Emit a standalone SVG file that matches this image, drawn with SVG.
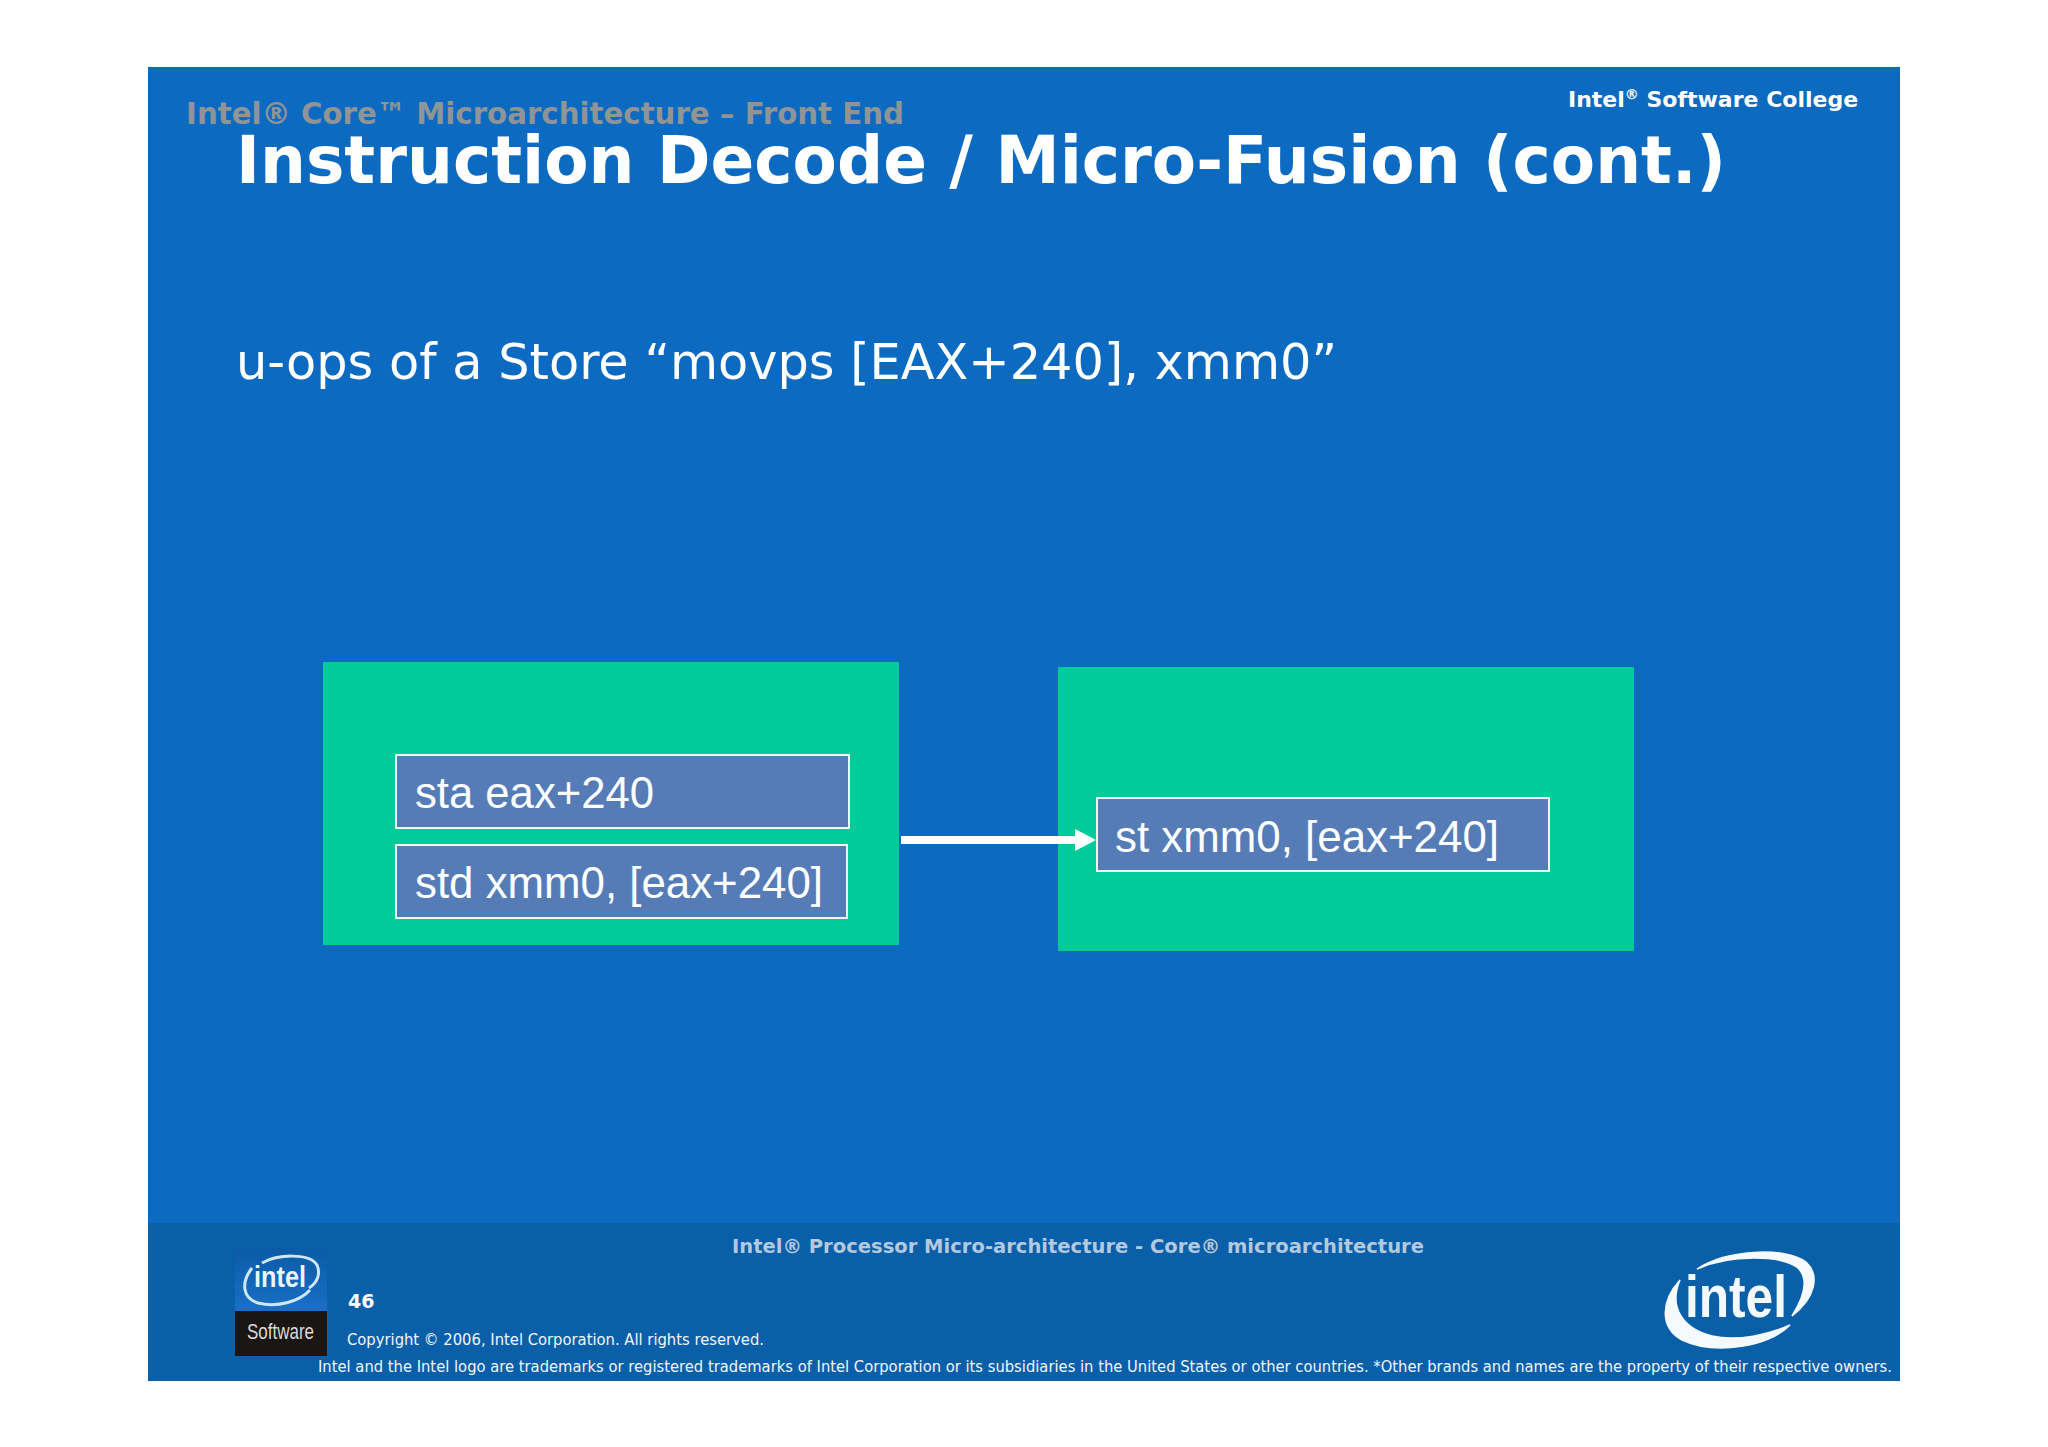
<svg xmlns="http://www.w3.org/2000/svg" width="2048" height="1447" viewBox="0 0 2048 1447">
<style>
.d{font-family:"DejaVu Sans",Verdana,sans-serif}
.b{font-weight:700}
.w{fill:#fff}
.a{font-family:"Liberation Sans",Arial,sans-serif;font-size:44px;fill:#fff}
.g{fill:#00cc99}
.u{fill:#567cb8;stroke:#eef6f8;stroke-width:2}
.f{font-size:15.2px;fill:#f2f6fa}
.l{font-family:"Liberation Sans",Arial,sans-serif;font-weight:700;fill:#f2f8fc}
</style>
<defs>
<linearGradient id="badge" x1="0" y1="0" x2="0" y2="1"><stop offset="0" stop-color="#0b5ba6"/><stop offset="1" stop-color="#1a6fc6"/></linearGradient>
</defs>
<rect width="2048" height="1447" fill="#fff"/>
<rect id="slide" x="148" y="67" width="1752" height="1314" fill="#0c6bc1"/>
<rect id="footer" x="148" y="1223" width="1752" height="158" fill="#0a5fa9"/>
<g id="headings">
<text class="d b" x="186" y="124" font-size="30.5" fill="#8f9497" textLength="718" lengthAdjust="spacingAndGlyphs">Intel® Core™ Microarchitecture – Front End</text>
<text class="d b w" x="236" y="183" font-size="66" textLength="1490" lengthAdjust="spacingAndGlyphs">Instruction Decode / Micro-Fusion (cont.)</text>
<text class="d b w" x="1568" y="107" font-size="22">Intel<tspan font-size="14" dy="-8">®</tspan><tspan dy="8"> Software College</tspan></text>
<text class="d w" x="236" y="379" font-size="50" textLength="1101" lengthAdjust="spacingAndGlyphs">u-ops of a Store “movps [EAX+240], xmm0”</text>
</g>
<g id="node-before">
<rect class="g" x="323" y="662" width="576" height="283"/>
<rect class="u" x="396" y="755" width="453" height="73"/>
<text class="a" x="415" y="808" textLength="239" lengthAdjust="spacingAndGlyphs">sta eax+240</text>
<rect class="u" x="396" y="845" width="451" height="73"/>
<text class="a" x="415" y="898" textLength="408" lengthAdjust="spacingAndGlyphs">std xmm0, [eax+240]</text>
</g>
<g id="node-after">
<rect class="g" x="1058" y="667" width="576" height="284"/>
<rect class="u" x="1097" y="798" width="452" height="73"/>
<text class="a" x="1115" y="852" textLength="384" lengthAdjust="spacingAndGlyphs">st xmm0, [eax+240]</text>
</g>
<g id="connectors">
<rect x="901" y="836" width="176" height="8" fill="#fff"/>
<polygon points="1075,829 1096,840 1075,851" fill="#fff"/>
</g>
<g id="footer-text">
<text class="d b" x="732" y="1253" font-size="20" fill="#b4c9de" textLength="692" lengthAdjust="spacingAndGlyphs">Intel® Processor Micro-architecture - Core® microarchitecture</text>
<text class="d b w" x="348" y="1308" font-size="19">46</text>
<text class="d f" x="347" y="1345" textLength="417" lengthAdjust="spacingAndGlyphs">Copyright © 2006, Intel Corporation. All rights reserved.</text>
<text class="d f" x="318" y="1372" textLength="1574" lengthAdjust="spacingAndGlyphs">Intel and the Intel logo are trademarks or registered trademarks of Intel Corporation or its subsidiaries in the United States or other countries. *Other brands and names are the property of their respective owners.</text>
</g>
<g id="logo-software">
<path d="M238 1247H324Q327 1247 327 1250V1311H235V1250Q235 1247 238 1247Z" fill="url(#badge)"/>
<rect x="235" y="1311" width="92" height="45" fill="#1a1613"/>
<text x="254" y="1287" font-family="Liberation Sans,Arial,sans-serif" font-size="29" font-weight="700" fill="#eaf5fc" textLength="52" lengthAdjust="spacingAndGlyphs">intel</text>
<path d="M252 1268C241 1282 242 1298 258 1303C278 1308 300 1301 310 1290M262 1263C278 1254 310 1253 317 1265C321 1274 317 1283 309 1288" fill="none" stroke="#cfe8f8" stroke-width="3"/>
<text x="247" y="1339" font-family="Liberation Sans,Arial,sans-serif" font-size="22" fill="#ddd9d4" textLength="67" lengthAdjust="spacingAndGlyphs">Software</text>
</g>
<g id="logo-intel">
<text class="l" x="1685" y="1317" font-size="60" textLength="102" lengthAdjust="spacingAndGlyphs">intel</text>
<path d="M1680 1280C1660 1302 1660 1328 1682 1340C1716 1356 1770 1346 1790 1325C1770 1334 1738 1342 1712 1336C1684 1329 1668 1308 1680 1280Z" fill="#f4fafe" stroke="#f4fafe" stroke-width="1.5"/>
<path d="M1697 1269C1725 1250 1785 1246 1806 1262C1820 1275 1816 1297 1792 1316C1804 1297 1809 1279 1798 1268C1782 1255 1730 1254 1697 1269Z" fill="#f4fafe" stroke="#f4fafe" stroke-width="1.5"/>
</g>
</svg>
